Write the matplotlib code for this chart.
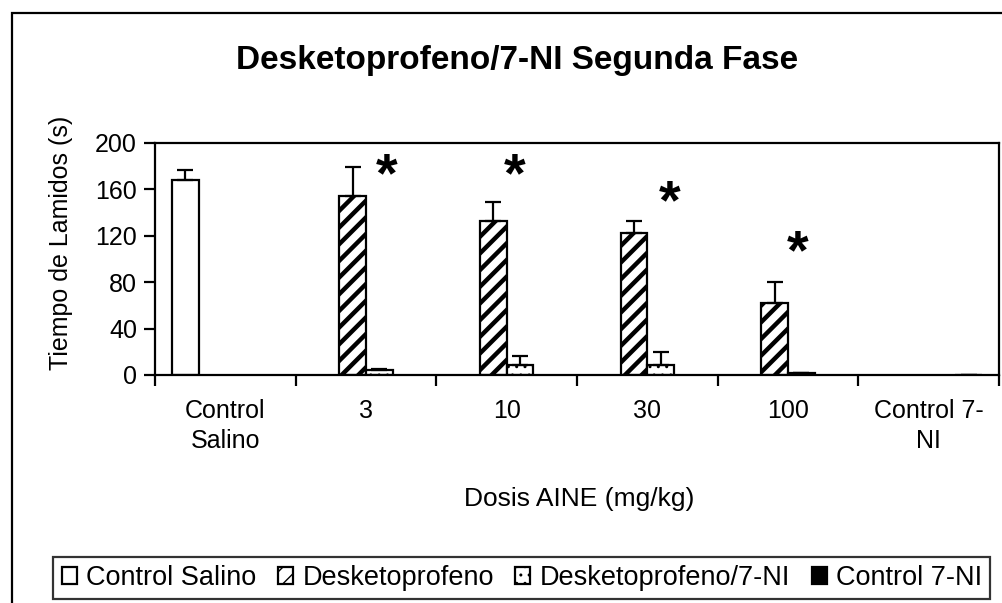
import matplotlib
matplotlib.use('Agg')
import matplotlib.pyplot as plt
import matplotlib.transforms as mtransforms
import numpy as np
from matplotlib.patches import Rectangle

plt.rcParams['font.family'] = 'Liberation Sans'

# datos
categorias = ['Control\nSalino', '3', '10', '30', '100', 'Control 7-\nNI']
series = ['Control Salino', 'Desketoprofeno', 'Desketoprofeno/7-NI', 'Control 7-NI']
control_salino = [168, np.nan, np.nan, np.nan, np.nan, np.nan]
desketoprofeno = [np.nan, 154, 133, 122, 62, np.nan]
desk_7ni = [np.nan, 4, 9, 9, 2, np.nan]
control_7ni = [np.nan, np.nan, np.nan, np.nan, np.nan, 0]
err_salino = [9, 0, 0, 0, 0, 0]
err_desk = [0, 25, 16, 11, 18, 0]
err_desk_7ni = [0, 1, 7, 11, 0, 0]
err_7ni = [0, 0, 0, 0, 0, 0]
estrellas_y = [181, 181, 158, 115]
estrellas_dx = [0.15, 0.06, 0.16, 0.07]

fig = plt.figure(figsize=(10.03, 6.03), dpi=100)
ax = fig.add_axes([155 / 1003, 1 - 375 / 603, 844 / 1003, 232 / 603])

# borde del area del grafico
fig.patches.append(Rectangle((12 / 1003, -0.05), 1.05, 1 - 13 / 603 + 0.05,
                             transform=fig.transFigure, fill=False,
                             edgecolor='black', linewidth=1.6))

x = np.arange(len(categorias))
w = 0.19
valores = [control_salino, desketoprofeno, desk_7ni, control_7ni]
errores = [err_salino, err_desk, err_desk_7ni, err_7ni]
rellenos = ['white', 'white', 'white', 'black']
tramas = [None, '//', '..', None]
grosor_trama = [1.0, 3.2, 1.0, 1.0]

for j, (vals, errs) in enumerate(zip(valores, errores)):
    pos = x + (j - 1.5) * w
    with plt.rc_context({'hatch.linewidth': grosor_trama[j]}):
        ax.bar(pos, vals, width=w, color=rellenos[j], edgecolor='black',
               hatch=tramas[j], linewidth=1.6, label=series[j], zorder=2)
    e = np.array(errs, dtype=float)
    ax.errorbar(pos, vals, yerr=[np.zeros_like(e), e], fmt='none',
                ecolor='black', elinewidth=1.6, capsize=6, capthick=1.6, zorder=3)

trans_estrella = mtransforms.offset_copy(ax.transData, fig=fig, x=0, y=-9, units='points')
for k, (yy, dx) in enumerate(zip(estrellas_y, estrellas_dx)):
    ax.text(x[k + 1] + dx, yy, '*', ha='center', va='center',
            fontsize=40, fontweight='bold', transform=trans_estrella)

ax.set_xlim(-0.5, len(categorias) - 0.5)
ax.set_ylim(0, 200)
ax.set_yticks(np.arange(0, 201, 40))
ax.set_xticks(x)
ax.set_xticklabels(categorias, fontsize=18, linespacing=1.35)
ax.set_xticks(np.arange(-0.5, len(categorias)), minor=True)
ax.tick_params(axis='x', which='major', length=0, pad=17)
ax.tick_params(axis='x', which='minor', length=8, width=1.6, direction='out')
ax.tick_params(axis='y', length=8, width=1.6, direction='out', labelsize=18, pad=5)
for s in ax.spines.values():
    s.set_linewidth(1.6)

ax.set_ylabel('Tiempo de Lamidos (s)', fontsize=18)
ax.yaxis.set_label_coords((73 - 155) / 844, (375 - 243) / 232)
ax.set_xlabel('Dosis AINE (mg/kg)', fontsize=19)
ax.xaxis.set_label_coords((579 - 155) / 844, (375 - 487) / 232)
fig.text(517 / 1003, 1 - 60 / 603, 'Desketoprofeno/7-NI Segunda Fase',
         ha='center', va='center', fontsize=24, fontweight='bold')

leg = fig.legend(loc='center', bbox_to_anchor=(522 / 1003, 1 - 578 / 603), ncol=4,
                 fontsize=19.5, frameon=True, fancybox=False, edgecolor='black',
                 handlelength=0.55, handleheight=0.55, handletextpad=0.35,
                 columnspacing=0.8, borderpad=0.3)
leg.get_frame().set_linewidth(1.6)

fig.savefig('out.png', dpi=100)
